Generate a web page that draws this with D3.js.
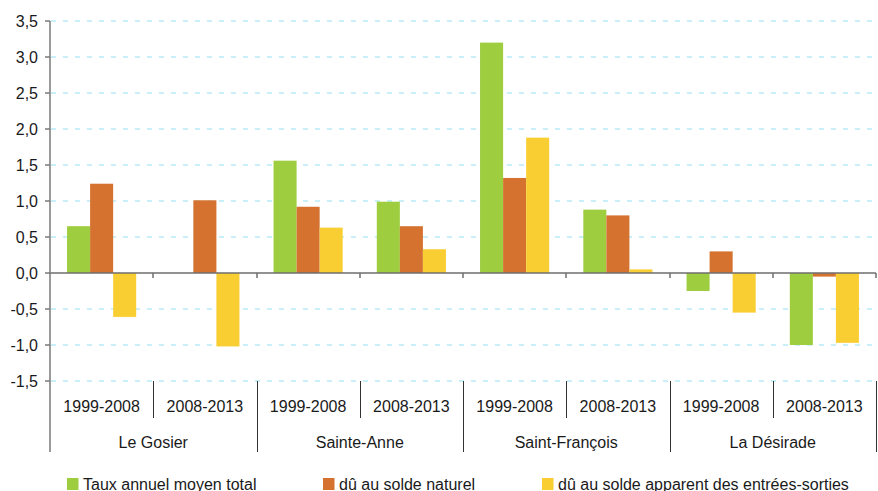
<!DOCTYPE html>
<html>
<head>
<meta charset="utf-8">
<title>Taux annuel moyen</title>
<script src="https://cdnjs.cloudflare.com/ajax/libs/d3/7.8.5/d3.min.js"></script>
<style>
  body { margin: 0; background: #fff; }
  text { font-family: "Liberation Sans", Arial, sans-serif; font-size: 16px; fill: #1a1a1a; }
</style>
</head>
<body>
<svg id="chart" width="878" height="491"></svg>
<script>
// data
var communes = ["Le Gosier", "Sainte-Anne", "Saint-François", "La Désirade"];
var periods = ["1999-2008", "2008-2013"];
var seriesNames = ["Taux annuel moyen total", "dû au solde naturel", "dû au solde apparent des entrées-sorties"];
var seriesColors = ["#9ecd3f", "#d57230", "#f9ce33"];
// one value per commune x period, in order
var total   = [0.65, 0, 1.56, 0.99, 3.20, 0.88, -0.25, -1.00];
var naturel = [1.24, 1.01, 0.92, 0.65, 1.32, 0.80, 0.30, -0.05];
var migrat  = [-0.61, -1.02, 0.63, 0.33, 1.88, 0.05, -0.55, -0.97];
var yTicks = [-1.5, -1.0, -0.5, 0, 0.5, 1.0, 1.5, 2.0, 2.5, 3.0, 3.5];

var svg = d3.select("#chart");
var plotL = 50, plotR = 876, plotT = 21, plotB = 381;

// build category keys
var cats = [];
communes.forEach(function(c) {
  periods.forEach(function(p) { cats.push({ commune: c, period: p, key: c + "|" + p }); });
});
var allSeries = [total, naturel, migrat];

var x = d3.scaleBand().domain(cats.map(function(d) { return d.key; }))
  .range([plotL, plotR]).paddingInner(0).paddingOuter(0);
var xs = d3.scaleBand().domain(d3.range(3))
  .range([0, x.bandwidth()]).paddingInner(0).paddingOuter(0.74);
var y = d3.scaleLinear().domain([-1.5, 3.5]).range([plotB, plotT]);

var fmt = function(v) { return d3.format(".1f")(v).replace(".", ",").replace("−", "-"); };

// grid lines
svg.append("g").selectAll("line")
  .data(yTicks.filter(function(v) { return v !== 0; }))
  .enter().append("line")
  .attr("x1", plotL + 1).attr("x2", plotR)
  .attr("y1", function(d) { return y(d); }).attr("y2", function(d) { return y(d); })
  .attr("stroke", "#b8ecf8").attr("stroke-width", 1.5)
  .attr("stroke-dasharray", "5,7");

// bars
var rows = [];
cats.forEach(function(c, i) {
  allSeries.forEach(function(s, j) { rows.push({ key: c.key, s: j, v: s[i] }); });
});
svg.append("g").selectAll("rect")
  .data(rows.filter(function(d) { return d.v !== 0; }))
  .enter().append("rect")
  .attr("x", function(d) { return x(d.key) + xs(d.s); })
  .attr("width", xs.bandwidth())
  .attr("y", function(d) { return y(Math.max(0, d.v)); })
  .attr("height", function(d) { return Math.abs(y(d.v) - y(0)); })
  .attr("fill", function(d) { return seriesColors[d.s]; });

// zero line and ticks under it
svg.append("line")
  .attr("x1", plotL - 1).attr("x2", plotR).attr("y1", y(0)).attr("y2", y(0))
  .attr("stroke", "#6e6e6e").attr("stroke-width", 1.5);
svg.append("g").selectAll("line")
  .data(d3.range(1, cats.length + 1))
  .enter().append("line")
  .attr("x1", function(i) { return Math.round(plotL + i * x.step()); })
  .attr("x2", function(i) { return Math.round(plotL + i * x.step()); })
  .attr("y1", y(0)).attr("y2", y(0) + 5)
  .attr("stroke", "#6e6e6e").attr("stroke-width", 1.5);

// y axis
svg.append("line")
  .attr("x1", plotL).attr("x2", plotL).attr("y1", plotT).attr("y2", 452)
  .attr("stroke", "#7a7a7a").attr("stroke-width", 1.5);
var yt = svg.append("g").selectAll("g").data(yTicks).enter().append("g");
yt.append("line")
  .attr("x1", plotL - 5).attr("x2", plotL)
  .attr("y1", function(d) { return y(d); }).attr("y2", function(d) { return y(d); })
  .attr("stroke", "#7a7a7a").attr("stroke-width", 1.5);
yt.append("text")
  .attr("x", 38).attr("y", function(d) { return y(d) + 5.5; })
  .attr("text-anchor", "end")
  .text(function(d) { return fmt(d); });

// category separators
svg.append("g").selectAll("line")
  .data(d3.range(1, cats.length + 1))
  .enter().append("line")
  .attr("x1", function(i) { return Math.round(plotL + i * x.step()) + 0.5; })
  .attr("x2", function(i) { return Math.round(plotL + i * x.step()) + 0.5; })
  .attr("y1", plotB).attr("y2", function(i) { return i % 2 === 0 ? 452 : 418; })
  .attr("stroke", "#333").attr("stroke-width", 1);

// period labels
svg.append("g").selectAll("text")
  .data(cats).enter().append("text")
  .attr("x", function(d) { return x(d.key) + x.bandwidth() / 2; })
  .attr("y", 411.5)
  .attr("text-anchor", "middle")
  .text(function(d) { return d.period; });

// commune labels
svg.append("g").selectAll("text")
  .data(communes).enter().append("text")
  .attr("x", function(d, i) { return plotL + (i * 2 + 1) * x.step(); })
  .attr("y", 447.5)
  .attr("text-anchor", "middle")
  .text(function(d) { return d; });

// legend
var legendX = [67, 323, 542];
var lg = svg.append("g").selectAll("g").data(seriesNames).enter().append("g")
  .attr("transform", function(d, i) { return "translate(" + legendX[i] + ",478)"; });
lg.append("rect").attr("width", 11.5).attr("height", 12)
  .attr("fill", function(d, i) { return seriesColors[i]; });
lg.append("text").attr("x", 16).attr("y", 11.5).text(function(d) { return d; });
</script>
</body>
</html>
